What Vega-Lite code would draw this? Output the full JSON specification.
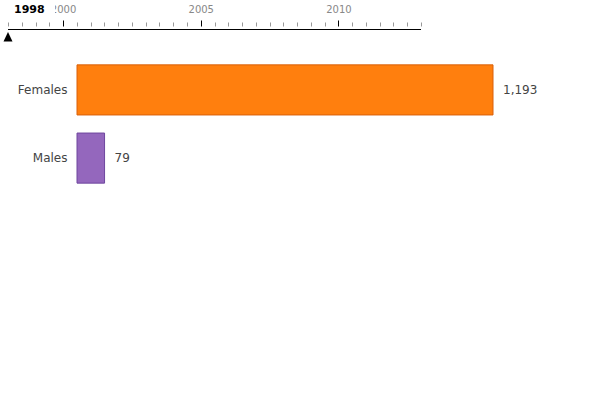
{
  "$schema": "https://vega.github.io/schema/vega-lite/v6.json",
  "background": "white",
  "padding": {"left": 3, "top": 3, "right": 0, "bottom": 0},
  "datasets": {
    "timeline": [{"year": 1998, "label": "1998", "last": 2013}],
    "counts": [
      {"sex": "Females", "count": 1193},
      {"sex": "Males", "count": 79}
    ]
  },
  "spacing": 14,
  "vconcat": [
    {
      "width": 344,
      "height": 7,
      "data": {"name": "timeline"},
      "encoding": {
        "x": {
          "field": "year",
          "type": "quantitative",
          "scale": {"domain": [1998, 2013], "range": [-69, 344], "nice": false, "zero": false},
          "axis": {
            "orient": "top", "title": null, "domain": false, "grid": false,
            "tickCount": 100,
            "tickMinStep": 0.25,
            "values": [1998, 1998.25, 1998.5, 1998.75, 1999, 1999.25, 1999.5, 1999.75,
              2000, 2000.25, 2000.5, 2000.75, 2001, 2001.25, 2001.5, 2001.75,
              2002, 2002.25, 2002.5, 2002.75, 2003, 2003.25, 2003.5, 2003.75,
              2004, 2004.25, 2004.5, 2004.75, 2005, 2005.25, 2005.5, 2005.75,
              2006, 2006.25, 2006.5, 2006.75, 2007, 2007.25, 2007.5, 2007.75,
              2008, 2008.25, 2008.5, 2008.75, 2009, 2009.25, 2009.5, 2009.75,
              2010, 2010.25, 2010.5, 2010.75, 2011, 2011.25, 2011.5, 2011.75,
              2012, 2012.25, 2012.5, 2012.75, 2013],
            "labelExpr": "datum.value % 5 === 0 ? format(datum.value, 'd') : ''",
            "tickSize": 6,
            "tickDash": {"condition": {"test": "datum.value % 5 === 0", "value": []}, "value": [4, 8]},
            "tickColor": {"condition": {"test": "datum.value % 5 === 0", "value": "black"}, "value": "#999999"},
            "labelColor": "#888888", "labelFontSize": 10, "labelPadding": 6,
            "labelFlush": false, "labelOverlap": false, "labelBound": false
          }
        }
      },
      "layer": [
        {
          "mark": {"type": "rule", "color": "black", "strokeWidth": 1},
          "encoding": {"x2": {"field": "last"}}
        },
        {
          "mark": {"type": "point", "shape": "M0.2,-2.65H4.7V-1.25H0.2Z", "size": 400, "filled": true, "color": "white", "opacity": 1}
        },
        {
          "mark": {"type": "text", "align": "left", "baseline": "alphabetic", "dx": 6, "dy": -17, "fontSize": 11, "fontWeight": "bold", "color": "black"},
          "encoding": {"text": {"field": "label", "type": "nominal"}}
        },
        {
          "mark": {"type": "point", "shape": "M0,0.56L1,2.69L-1,2.69Z", "size": 81, "filled": true, "color": "black", "opacity": 1}
        }
      ]
    },
    {
      "width": 416,
      "height": 136,
      "data": {"name": "counts"},
      "encoding": {
        "y": {
          "field": "sex",
          "type": "nominal",
          "sort": ["Females", "Males"],
          "scale": {"paddingInner": 0.265, "paddingOuter": 0.13},
          "axis": {"title": null, "domain": false, "ticks": false, "labelPadding": 10, "labelFontSize": 12, "labelColor": "#444444"}
        },
        "x": {
          "field": "count",
          "type": "quantitative",
          "scale": {"domain": [0, 1193], "nice": false},
          "axis": null
        }
      },
      "layer": [
        {
          "mark": {"type": "bar", "strokeWidth": 1},
          "encoding": {
            "color": {
              "field": "sex", "type": "nominal",
              "scale": {"domain": ["Females", "Males"], "range": ["#ff7f0e", "#9467bd"]},
              "legend": null
            },
            "stroke": {
              "field": "sex", "type": "nominal",
              "scale": {"domain": ["Females", "Males"], "range": ["#d9600a", "#6f479e"]},
              "legend": null
            }
          }
        },
        {
          "mark": {"type": "text", "align": "left", "baseline": "middle", "dx": 10, "fontSize": 12, "color": "#444444"},
          "encoding": {
            "text": {"field": "count", "type": "quantitative", "format": ","}
          }
        }
      ]
    }
  ],
  "config": {
    "font": "DejaVu Sans",
    "view": {"stroke": null},
    "axis": {"grid": false, "labelFont": "DejaVu Sans"}
  }
}
